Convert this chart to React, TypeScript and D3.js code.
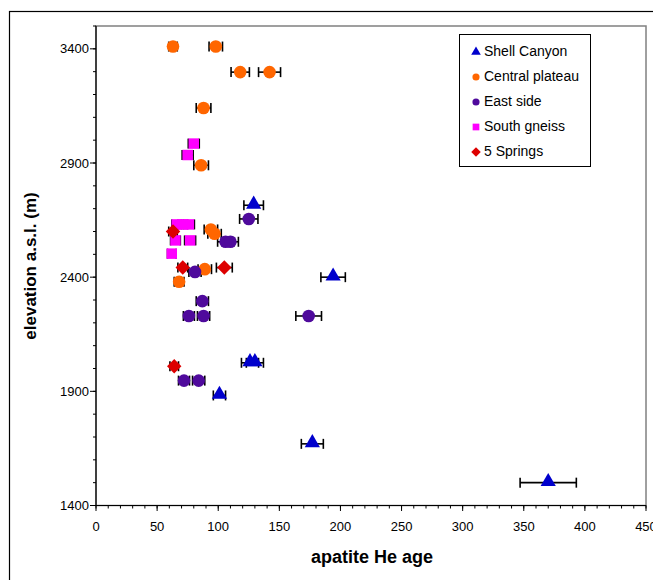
import React from 'react'
import * as d3 from 'd3'

// ages (x) and elevations (y) with 1-sigma age errors, by group
const shellAge = [129, 194, 126, 130, 101, 177, 370]
const shellElev = [2715, 2400, 2025, 2025, 1882, 1670, 1500]
const shellErr = [8, 10, 7, 7, 5, 9, 23]

const centralAge = [63, 98, 118, 142, 88, 86, 94, 97, 89, 68]
const centralElev = [3410, 3410, 3298, 3298, 3141, 2890, 2609, 2590, 2435, 2380]
const centralErr = [3.5, 5.5, 7.5, 9, 6, 6, 5.5, 5.5, 5.5, 4]

const eastAge = [125, 106, 110, 81, 87, 76, 88, 174, 72, 84]
const eastElev = [2655, 2555, 2555, 2423, 2295, 2230, 2230, 2230, 1947, 1947]
const eastErr = [7.5, 6.5, 6.5, 5, 5, 4.5, 5, 10.5, 4.5, 5]

const southAge = [80, 75, 66, 71, 76, 65, 77, 62]
const southElev = [2985, 2935, 2631, 2631, 2631, 2561, 2561, 2503]
const southErr = [4.5, 4.5, 4, 4, 4.5, 4, 4.5, 3.5]

const springsAge = [63, 71, 105, 64]
const springsElev = [2600, 2442, 2442, 2010]
const springsErr = [3.5, 4, 6.5, 3.5]

const xTicks = [0, 50, 100, 150, 200, 250, 300, 350, 400, 450]
const yTicks = [1400, 1900, 2400, 2900, 3400]

const series = [
  { name: 'Shell Canyon', shape: 'triangle', color: '#0000cc', age: shellAge, elev: shellElev, err: shellErr },
  { name: 'Central plateau', shape: 'circle', color: '#ff6600', age: centralAge, elev: centralElev, err: centralErr },
  { name: 'East side', shape: 'circle', color: '#4f0a9c', age: eastAge, elev: eastElev, err: eastErr },
  { name: 'South gneiss', shape: 'square', color: '#ff00ff', age: southAge, elev: southElev, err: southErr },
  { name: '5 Springs', shape: 'diamond', color: '#dd0000', age: springsAge, elev: springsElev, err: springsErr },
]

// square diamond (rotated square) instead of d3's narrow one
const squareDiamond = {
  draw(context, size) {
    const r = Math.sqrt(size / 2)
    context.moveTo(0, -r)
    context.lineTo(r, 0)
    context.lineTo(0, r)
    context.lineTo(-r, 0)
    context.closePath()
  },
}

const symbolFor = {
  triangle: d3.symbolTriangle,
  circle: d3.symbolCircle,
  square: d3.symbolSquare,
  diamond: squareDiamond,
}

const font = "'Liberation Sans', Arial, sans-serif"

export default function App() {
  const x = d3.scaleLinear().domain([0, 450]).range([96, 646])
  const y = d3.scaleLinear().domain([1400, 3500]).range([505.5, 26])

  const xMinor = d3.range(0, 451, 10)
  const yMinor = d3.range(1400, 3501, 100)

  const markSize = { triangle: 100, circle: 125, square: 110, diamond: 105 }
  const legendSize = { triangle: 40, circle: 40, square: 45, diamond: 45 }

  return (
    <svg width={653} height={580} style={{ position: 'absolute', left: 0, top: 0, background: '#fff' }}>
      <rect x={9.5} y={11.5} width={700} height={600} fill="#fff" stroke="#000" strokeWidth={1.2} />

      {/* plot frame */}
      <rect x={96} y={26} width={550} height={479.5} fill="#fff" stroke="#808080" strokeWidth={1.5} />
      <line x1={96} x2={96} y1={26} y2={505.5} stroke="#000" strokeWidth={1.2} />
      <line x1={96} x2={646} y1={505.5} y2={505.5} stroke="#000" strokeWidth={1.2} />

      {/* y ticks */}
      {yMinor.map(v => (
        <line key={'ym' + v} x1={93} x2={96} y1={y(v)} y2={y(v)} stroke="#000" strokeWidth={1} />
      ))}
      {yTicks.map(v => (
        <g key={'y' + v}>
          <line x1={90} x2={96} y1={y(v)} y2={y(v)} stroke="#000" strokeWidth={1} />
          <text x={89} y={y(v)} dy="0.35em" textAnchor="end" fontFamily={font} fontSize={13}>{v}</text>
        </g>
      ))}

      {/* x ticks */}
      {xMinor.map(v => (
        <line key={'xm' + v} x1={x(v)} x2={x(v)} y1={505.5} y2={508.5} stroke="#000" strokeWidth={1} />
      ))}
      {xTicks.map(v => (
        <g key={'x' + v}>
          <line x1={x(v)} x2={x(v)} y1={505.5} y2={511} stroke="#000" strokeWidth={1} />
          <text x={x(v)} y={531} textAnchor="middle" fontFamily={font} fontSize={13}>{v}</text>
        </g>
      ))}

      <text x={372} y={563} textAnchor="middle" fontFamily={font} fontSize={18} fontWeight="bold">apatite He age</text>
      <text transform="translate(36,266) rotate(-90)" textAnchor="middle" fontFamily={font} fontSize={17} fontWeight="bold">elevation a.s.l. (m)</text>

      {/* error bars */}
      {series.map(s => s.age.map((a, i) => {
        const cy = y(s.elev[i])
        const x0 = x(a - s.err[i])
        const x1 = x(a + s.err[i])
        return (
          <g key={s.name + 'e' + i} stroke="#000" strokeWidth={1.6}>
            <line x1={x0} x2={x1} y1={cy} y2={cy} />
            <line x1={x0} x2={x0} y1={cy - 5} y2={cy + 5} />
            <line x1={x1} x2={x1} y1={cy - 5} y2={cy + 5} />
          </g>
        )
      }))}

      {/* markers */}
      {series.map(s => {
        const path = d3.symbol(symbolFor[s.shape], markSize[s.shape])()
        return s.age.map((a, i) => (
          <path key={s.name + 'm' + i} d={path} fill={s.color}
            transform={`translate(${x(a)},${y(s.elev[i]) + (s.shape === 'triangle' ? -1 : 0)})`} />
        ))
      })}

      {/* legend */}
      <rect x={459.5} y={34.5} width={131} height={132} fill="#fff" stroke="#000" strokeWidth={1} />
      {series.map((s, i) => {
        const ly = 51 + i * 25
        const path = d3.symbol(symbolFor[s.shape], legendSize[s.shape])()
        return (
          <g key={s.name + 'l'}>
            <path d={path} fill={s.color} transform={`translate(476,${ly + 1})`} />
            <text x={484} y={ly} dy="0.35em" fontFamily={font} fontSize={14}>{s.name}</text>
          </g>
        )
      })}
    </svg>
  )
}
